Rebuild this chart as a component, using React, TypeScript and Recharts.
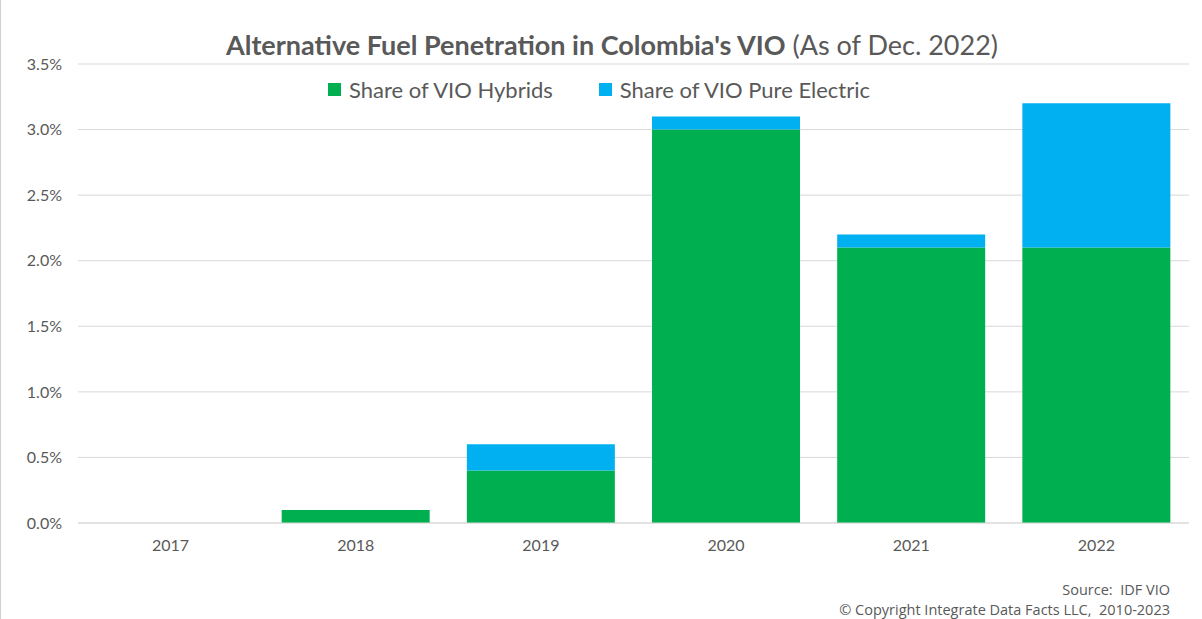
import { Bar, BarChart, CartesianGrid, XAxis, YAxis } from "recharts";

const years = ["2017", "2018", "2019", "2020", "2021", "2022"];
const hybrids = [0, 0.1, 0.4, 3.0, 2.1, 2.1];
const pureElectric = [0, 0, 0.2, 0.1, 0.1, 1.1];
const yTicks = [0, 0.5, 1.0, 1.5, 2.0, 2.5, 3.0, 3.5];

const data = years.map((year, i) => ({
  year,
  hybrids: hybrids[i],
  electric: pureElectric[i],
}));

const series = [
  { key: "hybrids", name: "Share of VIO Hybrids", color: "#00b050" },
  { key: "electric", name: "Share of VIO Pure Electric", color: "#00b0f0" },
];

const font = "Lato, 'Open Sans', sans-serif";
const grey = "#595959";

export default function App() {
  return (
    <div style={{ position: "absolute", left: 0, top: 0, width: 1202, height: 619, background: "#fff", borderLeft: "1px solid #d0d0d0", boxSizing: "border-box" }}>
      <div style={{ position: "absolute", top: 28, left: 0, width: 1222, textAlign: "center", fontFamily: font, fontSize: 27, color: grey, whiteSpace: "nowrap" }}>
        <b>Alternative Fuel Penetration in Colombia's VIO</b> (As of Dec. 2022)
      </div>
      <div style={{ position: "absolute", top: 76, left: 0, width: 1196, display: "flex", justifyContent: "center", gap: 46, fontFamily: font, fontSize: 22, color: grey }}>
        {series.map((s) => (
          <span key={s.key} style={{ display: "flex", alignItems: "center" }}>
            <span style={{ width: 13, height: 13, background: s.color, marginRight: 8, display: "inline-block" }} />
            {s.name}
          </span>
        ))}
      </div>
      <BarChart width={1200} height={619} data={data} margin={{ top: 64, right: 12, bottom: 66, left: 0 }} barCategoryGap="10%">
        <CartesianGrid vertical={false} stroke="#d9d9d9" />
        <XAxis
          dataKey="year"
          tick={{ fill: grey, fontSize: 16, fontFamily: font }}
          tickLine={false}
          axisLine={{ stroke: "#d9d9d9" }}
          tickSize={0}
          tickMargin={17}
        />
        <YAxis
          width={77}
          domain={[0, 3.5]}
          ticks={yTicks}
          tickFormatter={(v: number) => `${v.toFixed(1)}%`}
          tick={{ fill: grey, fontSize: 16, fontFamily: font }}
          tickLine={false}
          axisLine={false}
          tickSize={0}
          tickMargin={16}
        />
        {series.map((s) => (
          <Bar key={s.key} dataKey={s.key} name={s.name} stackId="a" fill={s.color} isAnimationActive={false} />
        ))}
      </BarChart>
      <div style={{ position: "absolute", right: 32, top: 580, textAlign: "right", fontFamily: "'Open Sans', sans-serif", fontSize: 14.5, color: grey, lineHeight: "20px" }}>
        Source:&nbsp; IDF VIO
        <br />© Copyright Integrate Data Facts LLC,&nbsp; 2010-2023
      </div>
    </div>
  );
}
